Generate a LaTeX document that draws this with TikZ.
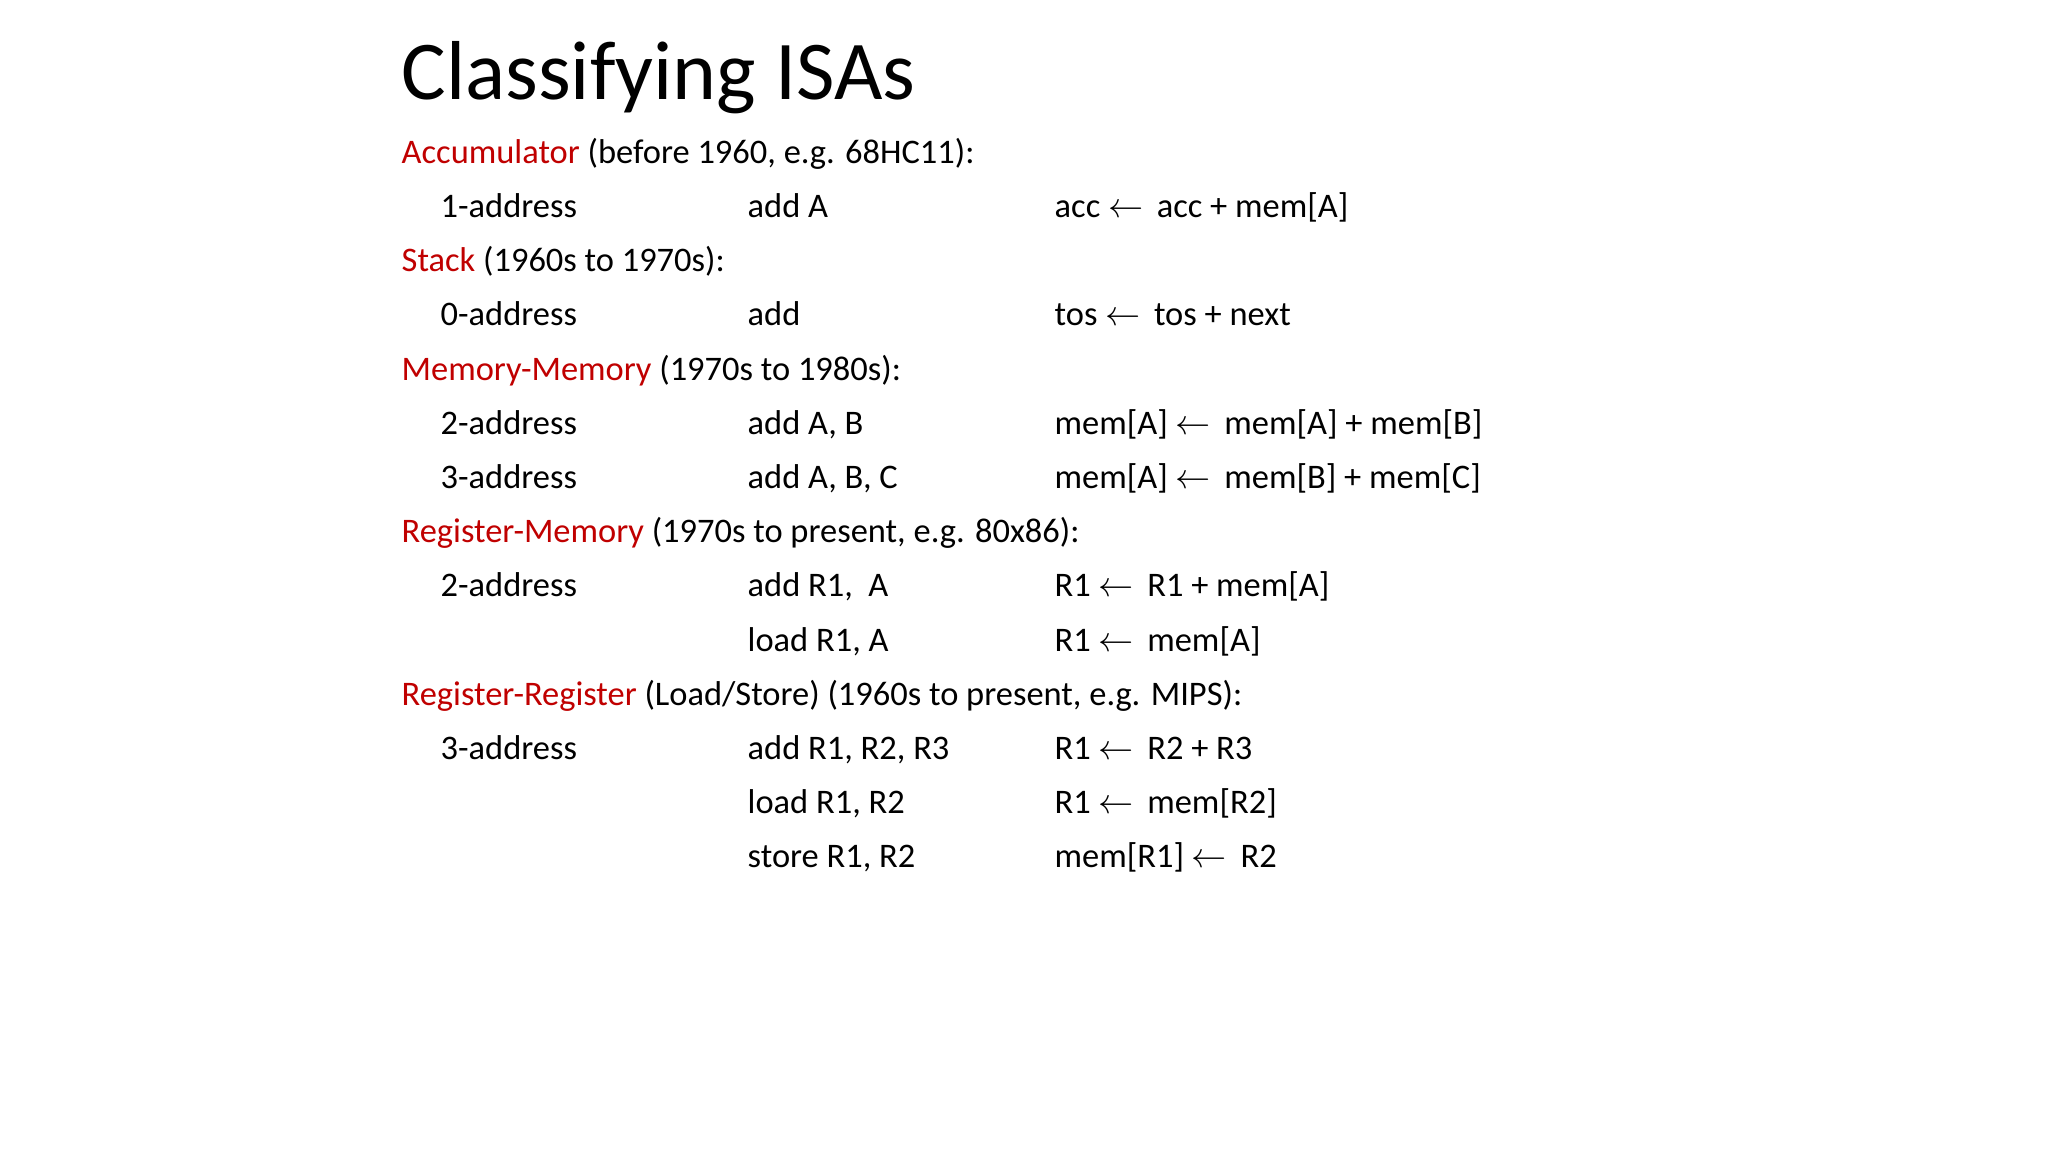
\documentclass[tikz,border=0pt]{standalone}
\usepackage{fontspec}
\setmainfont{Carlito}
\definecolor{hred}{RGB}{192,0,0}
\tikzset{txt/.style={anchor=base west,inner sep=0pt,font=\fontsize{9.8}{12}\selectfont}}
\newcommand{\la}{$\leftarrow$\ \,}
\begin{document}
\begin{tikzpicture}
\useasboundingbox (0,0) rectangle (20.48,-11.52);
\node[anchor=base west,inner sep=0pt,font=\fontsize{23.8}{28}\selectfont] (title) at (4.01,-1.0) {Classifying ISAs};
\def\cA{4.01}\def\cB{4.40}\def\cC{7.47}\def\cD{10.54}
\def\r#1{-1.632-0.542*#1}
\node[txt] (h1) at (\cA,{\r{0}}) {\textcolor{hred}{Accumulator} (before 1960, e.g. 68HC11):};
\node[txt] (a1) at (\cB,{\r{1}}) {1-address};
\node[txt] (b1) at (\cC,{\r{1}}) {add A};
\node[txt] (c1) at (\cD,{\r{1}}) {acc \la acc + mem[A]};
\node[txt] (h2) at (\cA,{\r{2}}) {\textcolor{hred}{Stack} (1960s to 1970s):};
\node[txt] (a2) at (\cB,{\r{3}}) {0-address};
\node[txt] (b2) at (\cC,{\r{3}}) {add};
\node[txt] (c2) at (\cD,{\r{3}}) {tos \la tos + next};
\node[txt] (h3) at (\cA,{\r{4}}) {\textcolor{hred}{Memory-Memory} (1970s to 1980s):};
\node[txt] (a3) at (\cB,{\r{5}}) {2-address};
\node[txt] (b3) at (\cC,{\r{5}}) {add A, B};
\node[txt] (c3) at (\cD,{\r{5}}) {mem[A] \la mem[A] + mem[B]};
\node[txt] (a4) at (\cB,{\r{6}}) {3-address};
\node[txt] (b4) at (\cC,{\r{6}}) {add A, B, C};
\node[txt] (c4) at (\cD,{\r{6}}) {mem[A] \la mem[B] + mem[C]};
\node[txt] (h4) at (\cA,{\r{7}}) {\textcolor{hred}{Register-Memory} (1970s to present, e.g. 80x86):};
\node[txt] (a5) at (\cB,{\r{8}}) {2-address};
\node[txt] (b5) at (\cC,{\r{8}}) {add R1,\ \ A};
\node[txt] (c5) at (\cD,{\r{8}}) {R1 \la R1 + mem[A]};
\node[txt] (b6) at (\cC,{\r{9}}) {load R1, A};
\node[txt] (c6) at (\cD,{\r{9}}) {R1 \la mem[A]};
\node[txt] (h5) at (\cA,{\r{10}}) {\textcolor{hred}{Register-Register} (Load/Store) (1960s to present, e.g. MIPS):};
\node[txt] (a7) at (\cB,{\r{11}}) {3-address};
\node[txt] (b7) at (\cC,{\r{11}}) {add R1, R2, R3};
\node[txt] (c7) at (\cD,{\r{11}}) {R1 \la R2 + R3};
\node[txt] (b8) at (\cC,{\r{12}}) {load R1, R2};
\node[txt] (c8) at (\cD,{\r{12}}) {R1 \la mem[R2]};
\node[txt] (b9) at (\cC,{\r{13}}) {store R1, R2};
\node[txt] (c9) at (\cD,{\r{13}}) {mem[R1] \la R2};
\end{tikzpicture}
\end{document}
